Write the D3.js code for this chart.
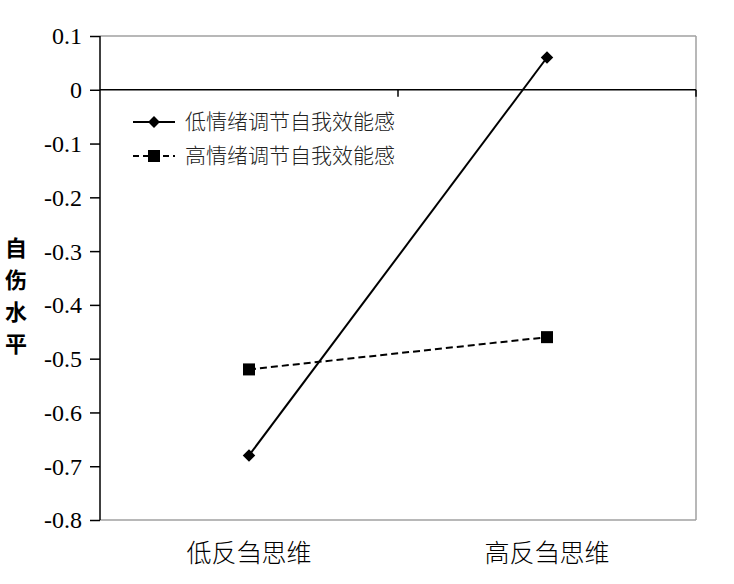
<!DOCTYPE html>
<html>
<head>
<meta charset="utf-8">
<script src="https://cdn.jsdelivr.net/npm/d3@7"></script>
<style>
body { margin: 0; background: #fff; }
</style>
</head>
<body>
<script>
var categories = ["低反刍思维", "高反刍思维"];
var seriesNames = ["低情绪调节自我效能感", "高情绪调节自我效能感"];
var lowEfficacy = [-0.68, 0.06];
var highEfficacy = [-0.52, -0.46];
var yTicks = [0.1, 0, -0.1, -0.2, -0.3, -0.4, -0.5, -0.6, -0.7, -0.8];
var yTitle = ["自", "伤", "水", "平"];

var width = 734, height = 584;
var margin = {top: 36, right: 38, bottom: 64, left: 100};
var innerW = width - margin.left - margin.right,
    innerH = height - margin.top - margin.bottom;

var svg = d3.select("body")
            .append("svg")
            .attr("width", width)
            .attr("height", height);

var g = svg.append("g")
           .attr("transform", "translate(" + margin.left + "," + margin.top + ")");

var x = d3.scaleBand()
        .domain(categories)
        .range([0, innerW]);

var y = d3.scaleLinear()
        .domain([-0.8, 0.1])
        .range([innerH, 0]);

// plot border (top, right, bottom in gray)
g.append("line")
    .attr("x1", 0).attr("x2", innerW)
    .attr("y1", 0).attr("y2", 0)
    .attr("stroke", "#a0a0a0").attr("stroke-width", 1.5);
g.append("line")
    .attr("x1", innerW).attr("x2", innerW)
    .attr("y1", 0).attr("y2", innerH)
    .attr("stroke", "#a0a0a0").attr("stroke-width", 1.5);
g.append("line")
    .attr("x1", 0).attr("x2", innerW)
    .attr("y1", innerH).attr("y2", innerH)
    .attr("stroke", "#a0a0a0").attr("stroke-width", 1.5);

// y axis
var yAxis = g.append("g")
    .call(d3.axisLeft(y).tickValues(yTicks).tickSize(10).tickPadding(8)
        .tickFormat(d => d === 0 ? "0" : d.toFixed(1)));
yAxis.selectAll("path, line").attr("stroke", "#000").attr("stroke-width", 1.5);
yAxis.select(".domain").attr("d", "M0,0V" + innerH);
yAxis.selectAll("text")
    .attr("fill", "#000")
    .attr("dy", "0.33em")
    .style("font-family", "'Liberation Serif', 'DejaVu Serif', serif")
    .style("font-size", "24px");

// category axis at zero
var boundaries = [0].concat(categories.map(c => x(c) + x.bandwidth()));
var zeroAxis = g.append("g").attr("transform", "translate(0," + y(0) + ")");
zeroAxis.append("line")
    .attr("x1", 0).attr("x2", innerW)
    .attr("stroke", "#000").attr("stroke-width", 1.5);
zeroAxis.selectAll(".tk")
    .data(boundaries.slice(1))
    .join("line")
    .attr("x1", d => d).attr("x2", d => d)
    .attr("y1", 0).attr("y2", 7)
    .attr("stroke", "#000").attr("stroke-width", 1.5);

// category labels
g.selectAll(".cat")
    .data(categories)
    .join("text")
    .attr("x", d => x(d) + x.bandwidth() / 2)
    .attr("y", innerH + 42)
    .attr("text-anchor", "middle")
    .style("font-family", "'Noto Sans CJK SC', sans-serif")
    .style("font-size", "25px")
    .style("font-weight", 300)
    .attr("fill", "#000")
    .text(d => d);

var line = d3.line()
    .x((d, i) => x(categories[i]) + x.bandwidth() / 2)
    .y(d => y(d));

// low efficacy: solid + diamond
g.append("path")
    .datum(lowEfficacy)
    .attr("d", line)
    .attr("fill", "none")
    .attr("stroke", "#000")
    .attr("stroke-width", 2);

g.selectAll(".dia")
    .data(lowEfficacy)
    .join("path")
    .attr("d", d3.symbol().type(d3.symbolDiamond2).size(100))
    .attr("transform", (d, i) => "translate(" + (x(categories[i]) + x.bandwidth() / 2) + "," + y(d) + ")")
    .attr("fill", "#000");

// high efficacy: dashed + square
g.append("path")
    .datum(highEfficacy)
    .attr("d", line)
    .attr("fill", "none")
    .attr("stroke", "#000")
    .attr("stroke-width", 2)
    .attr("stroke-dasharray", "7,4");

g.selectAll(".sq")
    .data(highEfficacy)
    .join("rect")
    .attr("x", (d, i) => x(categories[i]) + x.bandwidth() / 2 - 6)
    .attr("y", d => y(d) - 6)
    .attr("width", 12)
    .attr("height", 12)
    .attr("fill", "#000");

// legend
var legend = svg.append("g").attr("transform", "translate(133,122)");
seriesNames.forEach(function (name, i) {
    var row = legend.append("g").attr("transform", "translate(0," + (i * 34) + ")");
    row.append("line")
        .attr("x1", 0).attr("x2", 42)
        .attr("stroke", "#000").attr("stroke-width", 2)
        .attr("stroke-dasharray", i === 0 ? null : "6,4");
    if (i === 0) {
        row.append("path")
            .attr("d", d3.symbol().type(d3.symbolDiamond2).size(90))
            .attr("transform", "translate(21,0)")
            .attr("fill", "#000");
    } else {
        row.append("rect")
            .attr("x", 15).attr("y", -6)
            .attr("width", 12).attr("height", 12)
            .attr("fill", "#000");
    }
    row.append("text")
        .attr("x", 52)
        .attr("dy", "0.35em")
        .style("font-family", "'Noto Sans CJK SC', sans-serif")
        .style("font-size", "21px")
        .style("font-weight", 300)
        .attr("fill", "#222")
        .text(name);
});

// y title, stacked characters
svg.append("g")
    .selectAll("text")
    .data(yTitle)
    .join("text")
    .attr("x", 16)
    .attr("y", (d, i) => 248 + i * 32)
    .attr("dy", "0.35em")
    .attr("text-anchor", "middle")
    .style("font-family", "'Noto Sans CJK SC', sans-serif")
    .style("font-size", "22px")
    .style("font-weight", "bold")
    .attr("fill", "#000")
    .text(d => d);
</script>
</body>
</html>
